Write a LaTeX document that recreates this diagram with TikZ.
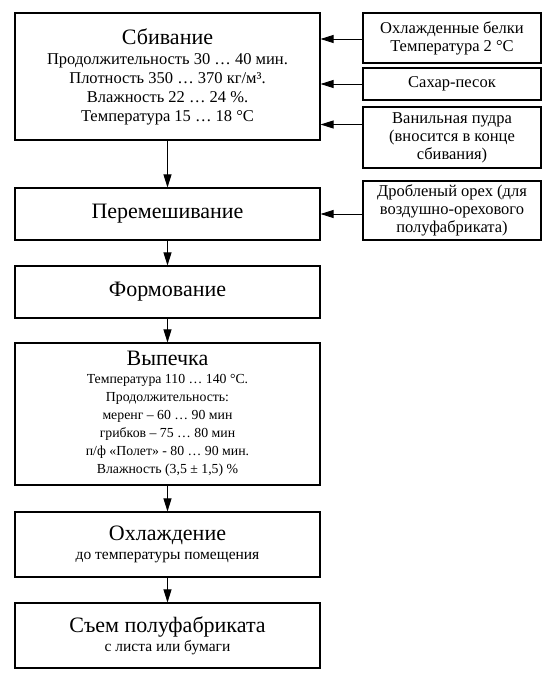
\documentclass[tikz,border=0pt]{standalone}
\usepackage{fontspec}
\setmainfont{Liberation Serif}
\usetikzlibrary{arrows.meta, positioning}

\newcommand{\stagetitle}[1]{{\fontsize{22}{24}\selectfont #1}}

\begin{document}
\begin{tikzpicture}[x=1pt, y=-1pt,
    stage/.style={draw, line width=1.1pt, minimum width=305pt, inner sep=0pt, align=center, font=\fontsize{16.5}{19}\selectfont},
    input/.style={draw, line width=1.1pt, minimum width=178pt, inner sep=0pt, align=center, font=\fontsize{16.5}{18}\selectfont},
    feed/.style={line width=0.9pt, -{Triangle[length=13pt, width=8pt]}}]
    \useasboundingbox (0, 0) rectangle (558, 681);

    \node[stage, minimum height=127pt] (sbiv) at (167.5, 76.5) {\stagetitle{Сбивание}\\[1pt] Продолжительность 30 … 40 мин.\\ Плотность 350 … 370 кг/м³.\\ Влажность 22 … 24 \%.\\ Температура 15 … 18 °С};
    \node[stage, minimum height=52pt] (perem) at (167.5, 214) {\stagetitle{Перемешивание}};
    \node[stage, minimum height=52pt] (form) at (167.5, 292) {\stagetitle{Формование}};
    \node[stage, minimum height=142pt, font=\fontsize{13.8}{18}\selectfont] (vyp) at (167.5, 414) {\stagetitle{Выпечка}\\ Температура 110 … 140 °С.\\ Продолжительность:\\ меренг – 60 … 90 мин\\ грибков – 75 … 80 мин\\ п/ф «Полет» - 80 … 90 мин.\\ Влажность (3,5 ± 1,5) \%};
    \node[stage, minimum height=65pt, font=\fontsize{15.5}{19}\selectfont] (ohl) at (167.5, 544.5) {\stagetitle{Охлаждение}\\ до температуры помещения};
    \node[stage, minimum height=65pt, font=\fontsize{15.5}{19}\selectfont] (sjem) at (167.5, 635.5) {\stagetitle{Съем полуфабриката}\\ с листа или бумаги};

    \node[input, minimum height=50pt] (belki) at (452, 38) {Охлажденные белки\\ Температура 2 °С};
    \node[input, minimum height=32pt] (sahar) at (452, 84) {Сахар-песок};
    \node[input, minimum height=61pt] (vanil) at (452, 137.5) {Ванильная пудра\\ (вносится в конце\\ сбивания)};
    \node[input, minimum height=59pt] (oreh) at (452, 210.5) {Дробленый орех (для\\ воздушно-орехового\\ полуфабриката)};

    \draw[feed] (sbiv) -- (perem);
    \draw[feed] (perem) -- (form);
    \draw[feed] (form) -- (vyp);
    \draw[feed] (vyp) -- (ohl);
    \draw[feed] (ohl) -- (sjem);

    \draw[feed] ([yshift=-1pt]belki.west) -- ([yshift=-1pt]belki.west -| sbiv.east);
    \draw[feed] (sahar.west) -- (sahar.west -| sbiv.east);
    \draw[feed] ([yshift=13pt]vanil.west) -- ([yshift=13pt]vanil.west -| sbiv.east);
    \draw[feed] (perem.east -| oreh.west) -- (perem.east);
\end{tikzpicture}
\end{document}
